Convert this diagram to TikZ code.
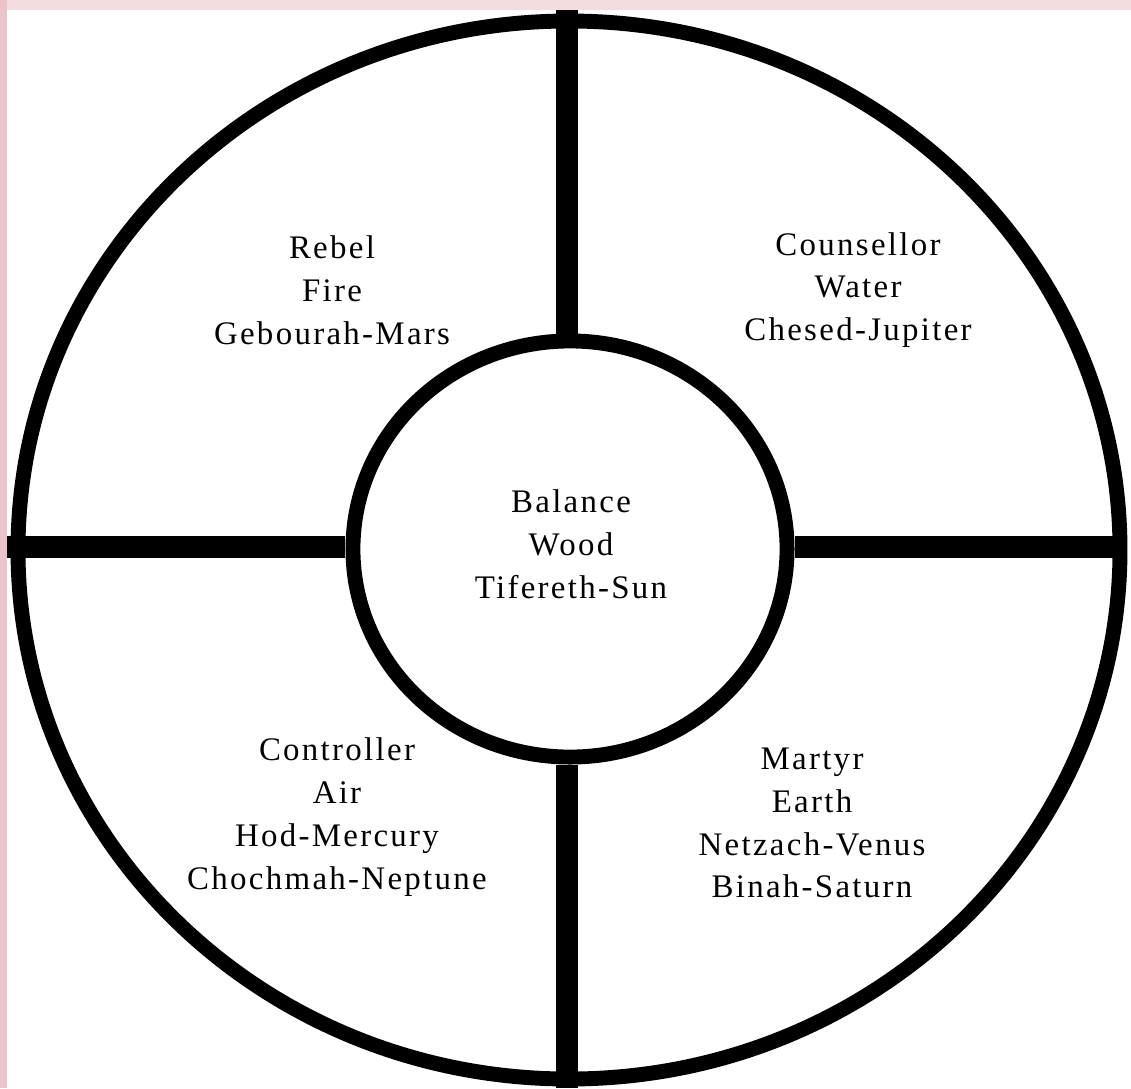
\documentclass[tikz,border=0pt]{standalone}
\usepackage{fontspec}
\setmainfont{Liberation Serif}[LetterSpace=7]
\usetikzlibrary{shapes.geometric}
\definecolor{framepink}{RGB}{234,196,201}
\definecolor{framepinklight}{RGB}{243,221,224}
\tikzset{
  wheel rim/.style={draw=black,line width=10.6pt},
  wheel spoke/.style={draw=black,line width=15.6pt},
  wheel hub/.style={ellipse,draw=black,line width=10.6pt,minimum width=10.85cm,minimum height=10.4cm,inner sep=0pt},
  wheel label/.style={align=center,font=\fontsize{23.4}{30.5}\selectfont}
}

\begin{document}
\begin{tikzpicture}[x=0.025cm,y=-0.025cm]
  \useasboundingbox (0,0) rectangle (1131,1088);
  \fill[framepinklight] (0,0) rectangle (1131,10);
  \fill[framepink] (0,0) rectangle (7,1088);
  \fill[white] (7,10) rectangle (1131,1088);

  \draw[wheel rim] (569,550) ellipse [x radius=551, y radius=529];
  \node[wheel hub] (hub) at (570,549) {};

  \coordinate (topend) at (567,10);
  \coordinate (bottomend) at (567,1088);
  \coordinate (leftend) at (7,547);
  \coordinate (rightend) at (1121,547);
  \draw[wheel spoke] (hub.north -| topend) -- (topend);
  \draw[wheel spoke] (hub.south -| bottomend) -- (bottomend);
  \draw[wheel spoke] (hub.west |- leftend) -- (leftend);
  \draw[wheel spoke] (hub.east |- rightend) -- (rightend);

  \node[wheel label] (balance) at (571,544) {Balance\\Wood\\Tifereth-Sun};
  \node[wheel label] (rebel) at (332,290) {Rebel\\Fire\\Gebourah-Mars};
  \node[wheel label] (counsellor) at (858,290) {Counsellor\\Water\\Chesed-Jupiter};
  \node[wheel label] (controller) at (337,817) {Controller\\Air\\Hod-Mercury\\Chochmah-Neptune};
  \node[wheel label] (martyr) at (812,823) {Martyr\\Earth\\Netzach-Venus\\Binah-Saturn};
\end{tikzpicture}
\end{document}
